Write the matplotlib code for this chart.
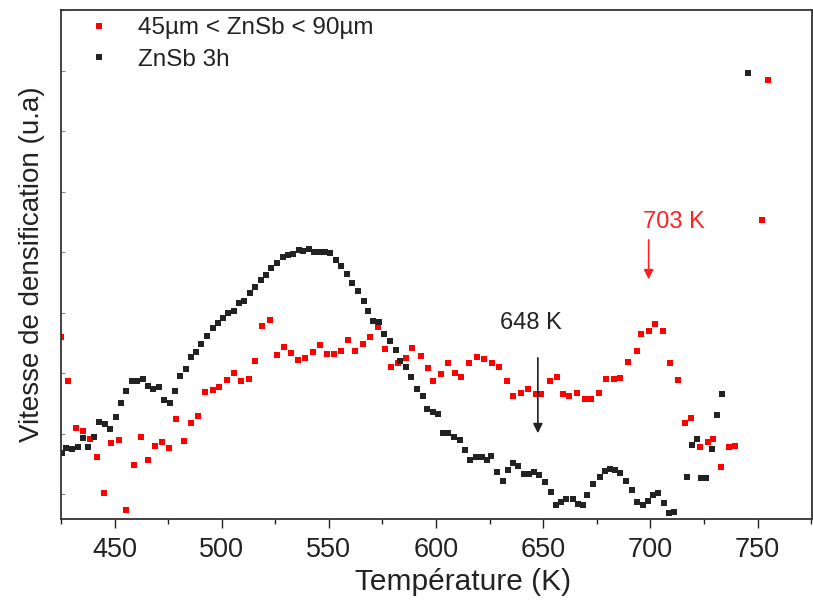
import matplotlib
matplotlib.use("Agg")
import matplotlib.pyplot as plt
from matplotlib.ticker import MultipleLocator

plt.rcParams['font.family'] = ['Liberation Sans', 'DejaVu Sans']

# ZnSb 3h (black)
t_black = [425.3, 427.5, 430.3, 432.8, 435.2, 437.8, 440.4, 442.9, 445.5, 448.0,
           450.5, 452.8, 455.5, 458.0, 460.5, 463.1, 465.6, 468.1, 470.7, 473.1,
           475.7, 478.2, 480.7, 483.2, 485.5, 487.9, 490.5, 493.0, 495.7, 498.3,
           500.8, 503.1, 505.6, 507.9, 510.6, 513.2, 515.6, 518.2, 520.5, 523.2,
           526.0, 528.5, 531.0, 533.2, 536.0, 538.1, 540.6, 543.1, 545.6, 548.1,
           550.6, 553.2, 555.6, 558.4, 560.7, 563.4, 566.2, 568.3, 570.8, 573.3,
           575.5, 578.4, 581.1, 583.1, 585.8, 588.2, 591.0, 593.7, 596.0, 598.5,
           600.9, 603.4, 605.5, 608.5, 611.1, 613.5, 615.9, 618.6, 621.3, 623.6,
           625.6, 628.4, 631.1, 633.4, 635.7, 638.3, 641.1, 643.3, 645.8, 648.1,
           650.8, 653.6, 656.1, 658.3, 660.8, 663.7, 666.1, 668.7, 670.4, 673.2,
           676.6, 678.8, 681.0, 683.5, 686.0, 688.8, 691.3, 693.8, 696.4, 698.9,
           701.2, 703.4, 706.2, 708.8, 711.2, 717.0, 719.4, 721.8, 723.6, 726.0,
           728.6, 731.1, 733.5, 745.6]
v_black = [0.66, 0.71, 0.70, 0.72, 0.81, 0.72, 0.82, 0.97, 0.95, 0.90,
           1.02, 1.16, 1.28, 1.38, 1.38, 1.40, 1.33, 1.30, 1.32, 1.19,
           1.16, 1.28, 1.43, 1.50, 1.62, 1.67, 1.75, 1.83, 1.91, 1.96,
           2.01, 2.06, 2.08, 2.16, 2.18, 2.26, 2.32, 2.39, 2.44, 2.51,
           2.56, 2.62, 2.64, 2.65, 2.69, 2.68, 2.70, 2.67, 2.67, 2.67,
           2.66, 2.59, 2.53, 2.45, 2.36, 2.28, 2.18, 2.08, 1.98, 1.97,
           1.85, 1.78, 1.69, 1.58, 1.52, 1.42, 1.30, 1.23, 1.10, 1.07,
           1.05, 0.86, 0.86, 0.82, 0.79, 0.69, 0.59, 0.62, 0.62, 0.59,
           0.63, 0.47, 0.38, 0.49, 0.56, 0.53, 0.45, 0.45, 0.47, 0.44,
           0.37, 0.27, 0.14, 0.17, 0.20, 0.20, 0.15, 0.14, 0.24, 0.35,
           0.42, 0.48, 0.50, 0.49, 0.46, 0.38, 0.29, 0.17, 0.14, 0.18,
           0.24, 0.26, 0.16, 0.06, 0.07, 0.42, 0.74, 0.80, 0.41, 0.41,
           0.70, 1.04, 1.25, 4.46]

# 45um < ZnSb < 90um (red)
t_red = [425.0, 428.4, 431.8, 435.2, 438.4, 441.8, 445.0, 448.5, 452.2, 455.5,
         458.9, 462.3, 465.8, 468.9, 472.1, 475.6, 478.9, 482.6, 485.7, 488.8,
         492.4, 495.7, 498.6, 502.3, 505.6, 509.2, 512.5, 515.6, 519.0, 522.4,
         525.7, 528.9, 532.2, 535.5, 538.9, 542.5, 545.8, 549.0, 552.2, 555.6,
         558.8, 562.1, 565.8, 569.1, 572.7, 576.0, 578.9, 582.2, 585.8, 589.0,
         592.8, 596.2, 598.8, 602.3, 605.7, 608.8, 611.6, 615.3, 618.9, 622.2,
         626.1, 629.3, 633.1, 635.9, 639.5, 642.9, 646.5, 648.9, 653.0, 656.3,
         659.4, 662.0, 665.9, 669.5, 672.1, 675.9, 679.2, 682.9, 685.7, 689.6,
         693.8, 695.6, 699.4, 702.0, 705.9, 709.2, 712.9, 716.0, 719.0, 723.2,
         726.8, 729.2, 733.1, 736.6, 739.5, 752.0, 754.9]
v_red = [1.82, 1.38, 0.91, 0.88, 0.80, 0.62, 0.26, 0.76, 0.79, 0.09,
         0.54, 0.82, 0.59, 0.73, 0.77, 0.71, 1.00, 0.78, 0.96, 1.03,
         1.27, 1.29, 1.32, 1.39, 1.46, 1.38, 1.40, 1.58, 1.93, 1.99,
         1.64, 1.72, 1.66, 1.59, 1.61, 1.67, 1.74, 1.65, 1.65, 1.68,
         1.79, 1.68, 1.75, 1.82, 1.92, 1.70, 1.52, 1.56, 1.61, 1.71,
         1.63, 1.51, 1.38, 1.45, 1.56, 1.46, 1.42, 1.56, 1.62, 1.60,
         1.56, 1.52, 1.38, 1.23, 1.26, 1.30, 1.25, 1.25, 1.38, 1.42,
         1.25, 1.23, 1.26, 1.20, 1.20, 1.26, 1.40, 1.40, 1.41, 1.57,
         1.68, 1.85, 1.88, 1.95, 1.88, 1.56, 1.39, 0.96, 1.01, 0.72,
         0.77, 0.80, 0.52, 0.72, 0.73, 2.99, 4.39]

labels = ["45µm < ZnSb < 90µm", "ZnSb 3h"]
colors = ["#ff0000", "#222222"]
xticks = [450, 500, 550, 600, 650, 700, 750]

fig = plt.figure(figsize=(8.13, 6.0), dpi=100)
ax = fig.add_axes([0.075, 0.135, 0.924, 0.848])

ax.plot(t_red, v_red, 's', color=colors[0], markersize=4.8, markeredgewidth=0,
        label=labels[0], clip_on=True)
ax.plot(t_black, v_black, 's', color=colors[1], markersize=4.8, markeredgewidth=0,
        label=labels[1], clip_on=True)

ax.set_xlim(425, 775.5)
ax.set_ylim(0, 5.09)
ax.set_xticks(xticks)
ax.xaxis.set_minor_locator(MultipleLocator(25))
ax.yaxis.set_major_locator(MultipleLocator(0.605, offset=0.25))
ax.set_yticklabels([])
ax.tick_params(axis='x', which='major', direction='out', length=6.5, width=1,
               labelsize=19.5, pad=6.5, colors='#222222')
ax.tick_params(axis='x', which='minor', direction='out', length=3.5, width=1,
               colors='#222222')
ax.tick_params(axis='y', which='major', direction='in', length=3, width=0.8,
               colors='#888888')
for s in ax.spines.values():
    s.set_linewidth(1.3)
    s.set_color('#333333')

ax.set_xlabel("Température (K)", fontsize=21.5, color='#222222')
ax.xaxis.set_label_coords(0.535, -0.097, transform=ax.transAxes)
ax.xaxis.label.set_va('top')
ax.set_ylabel("Vitesse de densification (u.a)", fontsize=20, color='#222222',
              labelpad=8)

ax.annotate("", xy=(647.5, 0.83), xytext=(647.5, 1.64),
            arrowprops=dict(arrowstyle='-|>', color='#222222', lw=1.2,
                            mutation_scale=14))
ax.text(644.3, 1.96, "648 K", color='#222222', fontsize=17,
        ha='center', va='center')
ax.annotate("", xy=(699.2, 2.37), xytext=(699.2, 2.82),
            arrowprops=dict(arrowstyle='-|>', color='#ff2020', lw=1.2,
                            mutation_scale=14))
ax.text(711.0, 2.97, "703 K", color='#ff2020', fontsize=17,
        ha='center', va='center')

leg = ax.legend(loc='upper left', frameon=False, fontsize=17.5, markerscale=0.85,
                handlelength=1.0, handletextpad=1.1, borderaxespad=0.0,
                bbox_to_anchor=(0.022, 1.005), labelspacing=0.38)
for t in leg.get_texts():
    t.set_color('#222222')

fig.savefig("out.png", dpi=100)
